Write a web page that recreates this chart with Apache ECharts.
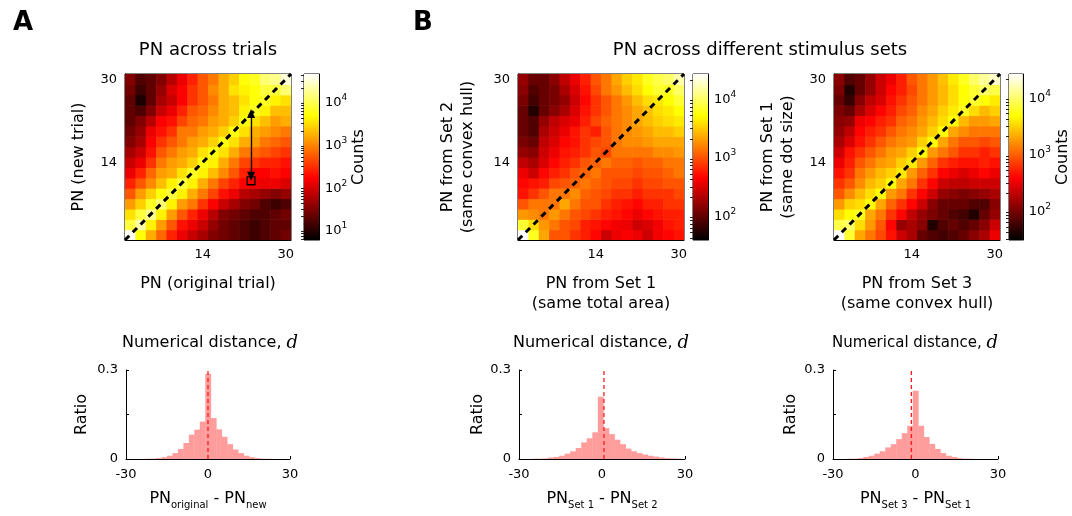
<!DOCTYPE html>
<html><head><meta charset="utf-8">
<script src="https://cdn.jsdelivr.net/npm/echarts@6/dist/echarts.min.js"></script>
<style>html,body{margin:0;padding:0;background:#fff}#c{width:1072px;height:516px}</style>
</head><body><div id="c"></div>
<script>
// ---------- data ----------
const cellCenters = [0,2,4,6,8,10,12,14,16,18,20,22,24,26,28,30];
const heatTickValues = [2,6,10,14,18,22,26,30];
const heatTickLabels = [14,30];
// log10(counts); rows from bottom (PN 0) to top (PN 30), columns left to right
const heatA = [
[4.6,3.7,3.2,2.8,2.4,2.1,1.9,1.7,1.5,1.4,1.3,1.2,1.1,1.2,1.3,1.4],
[3.9,4.3,3.6,3.1,2.7,2.3,2.1,1.9,1.6,1.4,1.3,1.2,1.1,1.2,1.3,1.3],
[3.5,3.9,4.2,3.6,3.1,2.7,2.4,2.1,1.8,1.5,1.4,1.3,1.2,1.2,1.3,1.4],
[3.1,3.4,3.8,4.1,3.6,3.1,2.9,2.5,2.2,1.9,1.7,1.5,1.4,1.2,1.1,1.2],
[2.7,3.1,3.4,3.7,3.9,3.6,3.2,2.9,2.6,2.3,2.1,1.8,1.7,1.6,1.5,1.6],
[2.4,2.7,3.0,3.3,3.6,3.9,3.6,3.2,2.9,2.6,2.4,2.2,2.15,2.1,2.1,2.0],
[2.1,2.4,2.8,3.1,3.2,3.5,3.8,3.6,3.3,3.0,2.7,2.4,2.2,2.2,2.3,2.2],
[1.9,2.1,2.5,2.9,3.1,3.2,3.4,3.7,3.6,3.2,2.9,2.6,2.5,2.4,2.4,2.3],
[1.7,1.9,2.3,2.7,2.9,3.1,3.2,3.5,3.7,3.5,3.2,2.9,2.8,2.7,2.6,2.5],
[1.5,1.7,2.2,2.5,2.7,2.9,3.1,3.2,3.4,3.7,3.5,3.2,3.1,2.9,2.8,2.7],
[1.4,1.6,2.1,2.3,2.5,2.9,2.9,3.1,3.2,3.4,3.7,3.5,3.2,3.1,3.0,2.9],
[1.3,1.5,1.8,2.2,2.3,2.6,2.8,2.9,3.1,3.2,3.4,3.7,3.5,3.3,3.1,3.2],
[1.3,1.2,1.5,1.9,2.1,2.4,2.7,2.8,3.0,3.2,3.3,3.6,3.8,3.6,3.3,3.3],
[1.3,0.9,1.3,1.7,1.9,2.2,2.5,2.7,2.9,3.2,3.3,3.5,3.7,3.8,3.6,3.5],
[1.4,1.1,1.3,1.6,2.0,2.2,2.5,2.7,3.0,3.2,3.5,3.6,3.7,3.9,3.9,4.1],
[1.5,1.2,1.3,1.5,1.8,2.1,2.4,2.7,2.9,3.2,3.4,3.7,3.8,4.1,4.2,4.5]
];
const heatB1 = [
[4.41,3.79,3.33,2.99,2.99,2.85,2.76,2.65,2.42,2.56,2.62,2.56,2.42,2.59,2.65,2.71],
[3.84,3.56,3.27,3.13,2.99,2.93,2.76,2.71,2.65,2.59,2.56,2.42,2.48,2.59,2.71,2.76],
[3.27,3.22,3.13,3.27,3.13,2.99,2.93,2.85,2.76,2.71,2.65,2.56,2.65,2.71,2.76,2.76],
[2.99,3.13,3.13,3.13,3.33,3.13,2.99,2.99,2.85,2.76,2.71,2.65,2.76,2.76,2.85,2.85],
[2.71,2.85,2.99,3.13,3.13,3.22,3.05,2.99,2.93,2.85,2.85,2.76,2.85,2.85,2.85,2.93],
[2.65,2.71,2.76,2.93,2.99,3.05,3.13,3.05,2.99,2.93,2.93,2.85,2.93,2.93,2.99,2.99],
[2.56,2.42,2.65,2.76,2.85,2.99,3.05,3.13,2.99,2.99,2.99,2.93,2.99,2.99,3.05,3.13],
[2.37,2.28,2.48,2.65,2.76,2.85,2.99,3.05,3.13,3.05,3.05,2.99,3.05,3.05,3.13,3.13],
[2.19,2.14,2.42,2.56,2.71,2.76,2.85,2.99,2.93,3.13,3.13,3.13,3.13,3.22,3.22,3.27],
[2.08,2.00,2.37,2.48,2.65,2.71,2.85,2.93,2.99,3.13,3.22,3.22,3.27,3.33,3.33,3.33],
[2.00,1.91,2.28,2.42,2.56,2.71,2.85,2.76,2.99,3.13,3.22,3.27,3.33,3.42,3.42,3.50],
[2.00,1.91,2.19,2.37,2.48,2.56,2.76,2.93,3.05,3.13,3.22,3.33,3.42,3.50,3.56,3.61],
[2.00,1.71,2.00,2.14,2.28,2.48,2.71,2.85,2.99,3.13,3.22,3.33,3.44,3.56,3.61,3.70],
[2.08,1.85,2.00,2.08,2.19,2.42,2.65,2.85,2.99,3.13,3.27,3.42,3.56,3.61,3.70,3.84],
[2.14,1.91,2.00,2.08,2.28,2.48,2.71,2.93,3.13,3.27,3.42,3.56,3.70,3.84,3.79,3.98],
[2.19,2.00,2.00,2.14,2.37,2.56,2.76,2.99,3.13,3.33,3.50,3.61,3.79,3.90,3.98,4.18]
];
const heatB2 = [
[4.40,3.81,3.29,3.08,2.88,2.64,2.35,2.20,1.91,1.82,1.76,1.82,1.91,2.06,2.20,2.50],
[3.87,3.96,3.52,3.23,2.94,2.58,2.11,2.20,2.06,1.62,1.82,1.91,1.82,1.91,2.06,2.35],
[3.52,3.67,3.76,3.29,3.08,2.79,2.58,2.29,2.11,2.00,1.91,1.82,1.76,1.62,1.91,2.11],
[3.23,3.46,3.52,3.67,3.29,2.99,2.79,2.58,2.35,2.06,1.91,1.91,1.91,1.82,1.82,2.06],
[2.94,3.17,3.37,3.52,3.67,3.23,3.08,2.79,2.58,2.35,2.11,2.06,2.00,2.06,2.11,2.20],
[2.79,2.94,3.17,3.37,3.46,3.67,3.29,3.08,2.79,2.58,2.35,2.29,2.29,2.35,2.35,2.35],
[2.64,2.79,3.08,3.23,3.37,3.46,3.58,3.23,2.99,2.79,2.58,2.50,2.41,2.50,2.58,2.50],
[2.50,2.70,2.94,3.08,3.23,3.29,3.46,3.58,3.23,2.99,2.79,2.70,2.64,2.64,2.70,2.64],
[2.35,2.64,2.79,2.94,3.08,3.23,3.29,3.46,3.67,3.23,3.08,2.94,2.79,2.79,2.70,2.79],
[2.20,2.41,2.64,2.79,2.94,3.08,3.17,3.23,3.46,3.67,3.29,3.08,2.94,2.94,2.88,2.94],
[2.11,2.29,2.58,2.70,2.79,2.94,3.08,3.17,3.29,3.46,3.67,3.29,3.17,3.08,3.08,3.08],
[2.06,2.11,2.50,2.58,2.70,2.79,2.99,3.08,3.23,3.37,3.52,3.67,3.37,3.23,3.23,3.29],
[2.00,1.91,2.20,2.41,2.58,2.70,2.88,2.99,3.17,3.29,3.46,3.58,3.76,3.52,3.37,3.46],
[1.91,1.70,2.06,2.29,2.41,2.64,2.79,2.94,3.08,3.23,3.37,3.52,3.67,3.81,3.67,3.58],
[2.00,1.62,1.91,2.11,2.35,2.58,2.70,2.88,3.08,3.23,3.37,3.52,3.67,3.81,3.96,3.87],
[2.06,1.82,1.91,2.11,2.35,2.50,2.70,2.94,3.08,3.23,3.40,3.58,3.76,3.96,4.11,4.25]
];
// colorbar ranges (log10 counts) and decade labels
const cbarRangeA = [0.75, 4.64];
const cbarRangeB1 = [1.57, 4.41];
const cbarRangeB2 = [1.47, 4.40];
const cbarDecadesA = [1,2,3,4];
const cbarDecadesB1 = [2,3,4];
const cbarDecadesB2 = [2,3,4];
// annotation in panel A
const arrowPN = [23.3, 23.4, 11.3];   // x, top y, bottom y
const squarePN = [23.3, 10.4];
const dLabelPN = [25.3, 17.2];
// histograms
const histBinsA = [-28,-26,-24,-22,-20,-18,-16,-14,-12,-10,-8,-6,-4,-2,0,2,4,6,8,10,12,14,16,18,20,22,24,26,28];
const histRatioA = [0,0,0,0.001,0.001,0.003,0.006,0.011,0.02,0.034,0.054,0.082,0.099,0.126,0.287,0.138,0.1,0.075,0.05,0.032,0.02,0.011,0.006,0.003,0.001,0.001,0,0,0];
const histBinsB1 = [-24.5,-22.5,-20.5,-18.5,-16.5,-14.5,-12.5,-10.5,-8.5,-6.5,-4.5,-2.5,-0.5,1.5,3.5,5.5,7.5,9.5,11.5,13.5,15.5,17.5,19.5,21.5,23.5,25.5,27.5];
const histRatioB1 = [0.001,0.001,0.002,0.005,0.007,0.011,0.018,0.026,0.037,0.056,0.07,0.09,0.21,0.104,0.084,0.065,0.05,0.035,0.026,0.02,0.015,0.011,0.008,0.005,0.003,0.002,0.001];
const histBinsB2 = [-24,-22,-20,-18,-16,-14,-12,-10,-8,-6,-4,-2,0,2,4,6,8,10,12,14,16,18,20];
const histRatioB2 = [0.001,0.001,0.003,0.007,0.011,0.018,0.026,0.039,0.05,0.067,0.087,0.112,0.23,0.112,0.074,0.051,0.034,0.02,0.011,0.007,0.003,0.001,0.001];
const meanLineA = 0, meanLineB1 = 0.7, meanLineB2 = -1.5;

// ---------- chart ----------
const FONT = 'DejaVu Sans';
const HOT = ['#000000','#550000','#aa0000','#ff0000','#ff5500','#ffaa00','#ffff00','#ffff80','#ffffff'];
const chart = echarts.init(document.getElementById('c'), null, {renderer:'canvas'});

const grids = [], xAxes = [], yAxes = [], series = [], visualMaps = [];
function addGrid(g){ grids.push(g); return grids.length-1; }
const axisBlack = {show:true, onZero:false, lineStyle:{color:'#000', width:1}};
const noSplit = {show:false};

function heatPanel(cfg){
  const gi = addGrid({left:cfg.left, top:74, width:166, height:166, show:true, borderColor:'#000', borderWidth:1, backgroundColor:'transparent'});
  const xi = xAxes.length;
  xAxes.push({gridIndex:gi, type:'value', min:-1, max:31, axisLine:axisBlack,
    axisTick:{inside:true, length:3, customValues:heatTickValues, lineStyle:{color:'#000'}},
    axisLabel:{customValues:heatTickLabels, color:'#000', fontSize:13, fontFamily:FONT, margin:8},
    splitLine:noSplit, name:cfg.xName, nameLocation:'middle', nameGap:cfg.xGap,
    nameTextStyle:{color:'#000', fontSize:16, fontFamily:FONT, lineHeight:20}});
  const yi = yAxes.length;
  yAxes.push({gridIndex:gi, type:'value', min:-1, max:31, axisLine:axisBlack,
    axisTick:{inside:true, length:3, customValues:heatTickValues, lineStyle:{color:'#000'}},
    axisLabel:{customValues:heatTickLabels, color:'#000', fontSize:13, fontFamily:FONT, margin:8},
    splitLine:noSplit, name:cfg.yName, nameLocation:'middle', nameGap:cfg.yGap, nameRotate:90,
    nameTextStyle:{color:'#000', fontSize:16, fontFamily:FONT, lineHeight:20}});
  const data = [];
  cfg.mat.forEach((row,j)=>row.forEach((v,i)=>data.push([cellCenters[i], cellCenters[j], v])));
  const si = series.length;
  series.push({type:'custom', xAxisIndex:xi, yAxisIndex:yi, clip:true, data:data,
    renderItem:function(p, api){
      const x = api.value(0), y = api.value(1);
      const a = api.coord([x-1, y+1]), b = api.coord([x+1, y-1]);
      return {type:'rect', shape:{x:a[0], y:a[1], width:b[0]-a[0]+0.6, height:b[1]-a[1]+0.6},
        style:{fill:api.visual('color')}};
    }});
  visualMaps.push({show:false, seriesIndex:si, dimension:2, min:cfg.range[0], max:cfg.range[1], inRange:{color:HOT}});
  // diagonal
  series.push({type:'line', xAxisIndex:xi, yAxisIndex:yi, data:[[-1,-1],[31,31]], symbol:'none',
    lineStyle:{color:'#000', width:3, type:[6,5]}, z:5, silent:true});
  // colorbar
  const ci = addGrid({left:cfg.cbLeft, top:74, width:15, height:166, show:true, borderColor:'#000', borderWidth:1});
  const cxi = xAxes.length;
  xAxes.push({gridIndex:ci, type:'value', min:0, max:1, show:false});
  const cyi = yAxes.length;
  const r = cfg.range, minor = [];
  for (let d = Math.floor(r[0]); d <= Math.ceil(r[1]); d++) {
    for (let k = 2; k <= 9; k++) { const v = d + Math.log10(k); if (v > r[0] && v < r[1]) minor.push(v); }
  }
  yAxes.push({gridIndex:ci, type:'value', min:r[0], max:r[1], position:'right', axisLine:axisBlack,
    axisTick:{inside:true, length:5, customValues:cfg.decades, lineStyle:{color:'#000'}},
    axisLabel:{customValues:cfg.decades, margin:6, formatter:v=>'{b|10}{s|'+v+'}',
      rich:{b:{fontSize:13, fontFamily:FONT, color:'#000', verticalAlign:'bottom'},
            s:{fontSize:9, fontFamily:FONT, color:'#000', verticalAlign:'bottom', padding:[0,0,7,0]}}},
    splitLine:noSplit, name:cfg.cbName||'', nameLocation:'middle', nameRotate:90, nameGap:cfg.cbGap||30,
    nameTextStyle:{color:'#000', fontSize:16, fontFamily:FONT}});
  yAxes.push({gridIndex:ci, type:'value', min:r[0], max:r[1], position:'right', axisLine:{show:false},
    axisTick:{inside:true, length:3, customValues:minor, lineStyle:{color:'#222'}},
    axisLabel:{show:false}, splitLine:noSplit});
  const stops = HOT.map((c,i)=>({offset:1 - i/(HOT.length-1), color:c})).reverse();
  series.push({type:'custom', xAxisIndex:cxi, yAxisIndex:cyi, data:[[0.5, (r[0]+r[1])/2]], silent:true,
    renderItem:function(p, api){
      const a = api.coord([0, r[1]]), b = api.coord([1, r[0]]);
      return {type:'rect', shape:{x:a[0], y:a[1], width:b[0]-a[0], height:b[1]-a[1]},
        style:{fill:new echarts.graphic.LinearGradient(0,0,0,1, stops)}};
    }});
  return {xi, yi};
}

const hA = heatPanel({left:125, cbLeft:304, mat:heatA, range:cbarRangeA, decades:cbarDecadesA,
  xName:'PN (original trial)', xGap:34, yName:'PN (new trial)', yGap:36, cbName:'Counts', cbGap:32});
const hB1 = heatPanel({left:518, cbLeft:693, mat:heatB1, range:cbarRangeB1, decades:cbarDecadesB1,
  xName:'PN from Set 1\n(same total area)', xGap:34, yName:'PN from Set 2\n(same convex hull)', yGap:40});
const hB2 = heatPanel({left:834, cbLeft:1009, mat:heatB2, range:cbarRangeB2, decades:cbarDecadesB2,
  xName:'PN from Set 3\n(same convex hull)', xGap:34, yName:'PN from Set 1\n(same dot size)', yGap:36, cbName:'Counts', cbGap:29});

// annotations in panel A
series.push({type:'line', xAxisIndex:hA.xi, yAxisIndex:hA.yi, data:[[arrowPN[0], arrowPN[1]],[arrowPN[0], arrowPN[2]]],
  symbol:'none', lineStyle:{width:0, opacity:0}, silent:true, z:6,
  markLine:{silent:true, symbol:['triangle','triangle'], symbolSize:[8,9], animation:false,
    lineStyle:{color:'#000', width:1.3, type:'solid'}, itemStyle:{color:'#000'}, label:{show:false}, emphasis:{disabled:true},
    data:[[{coord:[arrowPN[0], arrowPN[1]]},{coord:[arrowPN[0], arrowPN[2]]}]]}});
series.push({type:'custom', xAxisIndex:hA.xi, yAxisIndex:hA.yi, data:[squarePN], z:6, silent:true,
  renderItem:function(p, api){
    const a = api.coord([api.value(0)-0.75, api.value(1)+0.75]), b = api.coord([api.value(0)+0.75, api.value(1)-0.75]);
    return {type:'rect', shape:{x:a[0], y:a[1], width:b[0]-a[0], height:b[1]-a[1]}, style:{fill:'none', stroke:'#000', lineWidth:1.3}};
  }});
series.push({type:'scatter', xAxisIndex:hA.xi, yAxisIndex:hA.yi, data:[dLabelPN], symbolSize:1, itemStyle:{opacity:0}, z:6, silent:true,
  label:{show:true, position:'inside', formatter:'d', fontFamily:'DejaVu Serif', fontStyle:'italic', fontSize:19, color:'#000'}});

// histograms
function histPanel(cfg){
  const gi = addGrid({left:cfg.left, top:370, width:cfg.width, height:89});
  const xi = xAxes.length;
  xAxes.push({gridIndex:gi, type:'value', min:-30, max:30, interval:30, axisLine:axisBlack,
    axisTick:{inside:true, length:3, lineStyle:{color:'#000'}},
    axisLabel:{color:'#000', fontSize:13, fontFamily:FONT, margin:9, showMinLabel:true, showMaxLabel:true},
    splitLine:noSplit, name:cfg.xName, nameLocation:'middle', nameGap:32,
    nameTextStyle:{rich:{b:{fontSize:16, fontFamily:FONT, color:'#000', verticalAlign:'top'},
                          s:{fontSize:10, fontFamily:FONT, color:'#000', verticalAlign:'top', padding:[9,0,0,0]}}}});
  const yi = yAxes.length;
  yAxes.push({gridIndex:gi, type:'value', min:0, max:0.3, interval:0.15, axisLine:axisBlack,
    axisTick:{inside:true, length:3, lineStyle:{color:'#000'}},
    axisLabel:{color:'#000', fontSize:13, fontFamily:FONT, margin:8,
      formatter:v=> (Math.abs(v) < 1e-9 ? '0' : (Math.abs(v-0.3) < 1e-9 ? '0.3' : ''))},
    splitLine:noSplit, name:'Ratio', nameLocation:'middle', nameRotate:90, nameGap:cfg.yGap,
    nameTextStyle:{color:'#000', fontSize:16, fontFamily:FONT}});
  series.push({type:'custom', xAxisIndex:xi, yAxisIndex:yi, clip:false, silent:true,
    data:cfg.bins.map((c,i)=>[c, cfg.vals[i]]),
    renderItem:function(p, api){
      const c = api.value(0), v = api.value(1);
      const a = api.coord([c-1, v]), b = api.coord([c+1, 0]);
      return {type:'rect', shape:{x:a[0], y:a[1], width:b[0]-a[0]+0.4, height:b[1]-a[1]}, style:{fill:'#ff9c9c'}};
    }});
  series.push({type:'line', xAxisIndex:xi, yAxisIndex:yi, data:[[cfg.mean,0],[cfg.mean,0.3]], symbol:'none', silent:true, z:4,
    lineStyle:{color:'#ff1a1a', width:1.3, type:[4,3]}});
}
histPanel({left:126, width:164, bins:histBinsA, vals:histRatioA, mean:meanLineA, yGap:36,
  xName:'{b|PN}{s|original}{b| - PN}{s|new}'});
histPanel({left:519, width:166, bins:histBinsB1, vals:histRatioB1, mean:meanLineB1, yGap:33,
  xName:'{b|PN}{s|Set 1}{b| - PN}{s|Set 2}'});
histPanel({left:833, width:165, bins:histBinsB2, vals:histRatioB2, mean:meanLineB2, yGap:34,
  xName:'{b|PN}{s|Set 3}{b| - PN}{s|Set 1}'});

const txt = (x,y,text,font,extra)=>Object.assign({type:'text', x:x, y:y, silent:true,
  style:Object.assign({text:text, font:font, fill:'#000', align:'center', verticalAlign:'middle'}, extra||{})});
const italicD = {i:{fontFamily:'DejaVu Serif', fontStyle:'italic', fontSize:18, fill:'#000'}};
const option = {
  animation:false,
  backgroundColor:'#fff',
  grid:grids, xAxis:xAxes, yAxis:yAxes, series:series, visualMap:visualMaps,
  graphic:[
    txt(23, 23, 'A', 'bold 26px "'+FONT+'"'),
    txt(423, 23, 'B', 'bold 26px "'+FONT+'"'),
    txt(208, 50, 'PN across trials', '18px "'+FONT+'"'),
    txt(760, 50, 'PN across different stimulus sets', '18px "'+FONT+'"'),
    txt(210, 343, 'Numerical distance, {i|d}', '16px "'+FONT+'"', {rich:italicD}),
    txt(601, 343, 'Numerical distance, {i|d}', '16px "'+FONT+'"', {rich:italicD}),
    txt(915, 343, 'Numerical distance, {i|d}', '15px "'+FONT+'"', {rich:italicD})
  ]
};
chart.setOption(option);
</script></body></html>
